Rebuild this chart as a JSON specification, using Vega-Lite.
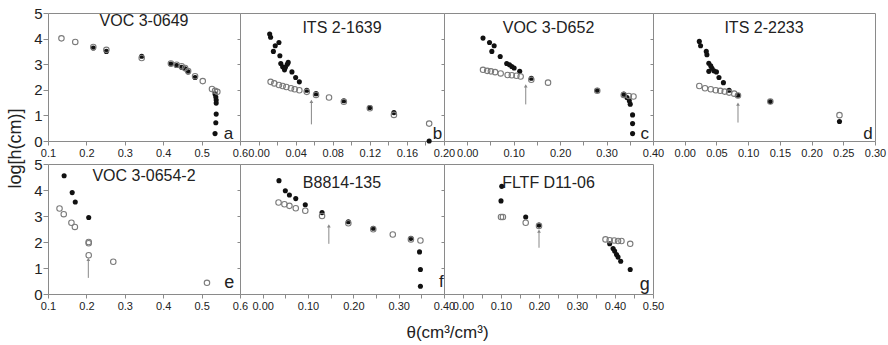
{
  "$schema": "https://vega.github.io/schema/vega-lite/v6.json",
  "background": "white",
  "padding": 5,
  "bounds": "flush",
  "columns": 4,
  "spacing": {"row": 23, "column": 0},
  "datasets": {
    "points": [
      {"panel": "a", "kind": "open", "theta": 0.135, "logh": 4.01},
      {"panel": "a", "kind": "open", "theta": 0.171, "logh": 3.87},
      {"panel": "a", "kind": "open", "theta": 0.218, "logh": 3.67},
      {"panel": "a", "kind": "open", "theta": 0.252, "logh": 3.56},
      {"panel": "a", "kind": "open", "theta": 0.344, "logh": 3.24},
      {"panel": "a", "kind": "open", "theta": 0.42, "logh": 3.03},
      {"panel": "a", "kind": "open", "theta": 0.435, "logh": 2.98},
      {"panel": "a", "kind": "open", "theta": 0.448, "logh": 2.92},
      {"panel": "a", "kind": "open", "theta": 0.457, "logh": 2.85},
      {"panel": "a", "kind": "open", "theta": 0.465, "logh": 2.73},
      {"panel": "a", "kind": "open", "theta": 0.483, "logh": 2.53},
      {"panel": "a", "kind": "open", "theta": 0.503, "logh": 2.34},
      {"panel": "a", "kind": "open", "theta": 0.527, "logh": 2.03},
      {"panel": "a", "kind": "open", "theta": 0.535, "logh": 1.96},
      {"panel": "a", "kind": "open", "theta": 0.541, "logh": 1.92},
      {"panel": "a", "kind": "filled", "theta": 0.218, "logh": 3.63},
      {"panel": "a", "kind": "filled", "theta": 0.252, "logh": 3.5},
      {"panel": "a", "kind": "filled", "theta": 0.344, "logh": 3.31},
      {"panel": "a", "kind": "filled", "theta": 0.42, "logh": 3.01},
      {"panel": "a", "kind": "filled", "theta": 0.435, "logh": 2.95},
      {"panel": "a", "kind": "filled", "theta": 0.448, "logh": 2.88},
      {"panel": "a", "kind": "filled", "theta": 0.457, "logh": 2.82},
      {"panel": "a", "kind": "filled", "theta": 0.465, "logh": 2.7},
      {"panel": "a", "kind": "filled", "theta": 0.483, "logh": 2.48},
      {"panel": "a", "kind": "filled", "theta": 0.535, "logh": 1.84},
      {"panel": "a", "kind": "filled", "theta": 0.537, "logh": 1.72},
      {"panel": "a", "kind": "filled", "theta": 0.538, "logh": 1.6},
      {"panel": "a", "kind": "filled", "theta": 0.538, "logh": 1.48},
      {"panel": "a", "kind": "filled", "theta": 0.538, "logh": 1.05},
      {"panel": "a", "kind": "filled", "theta": 0.537, "logh": 0.71},
      {"panel": "a", "kind": "filled", "theta": 0.535, "logh": 0.29},

      {"panel": "b", "kind": "filled", "theta": 0.012, "logh": 4.18},
      {"panel": "b", "kind": "filled", "theta": 0.013, "logh": 4.05},
      {"panel": "b", "kind": "filled", "theta": 0.022, "logh": 3.85},
      {"panel": "b", "kind": "filled", "theta": 0.018, "logh": 3.72},
      {"panel": "b", "kind": "filled", "theta": 0.016, "logh": 3.5},
      {"panel": "b", "kind": "filled", "theta": 0.023, "logh": 3.33},
      {"panel": "b", "kind": "filled", "theta": 0.024, "logh": 3.03},
      {"panel": "b", "kind": "filled", "theta": 0.026, "logh": 2.9},
      {"panel": "b", "kind": "filled", "theta": 0.028, "logh": 2.78},
      {"panel": "b", "kind": "filled", "theta": 0.031, "logh": 3.0},
      {"panel": "b", "kind": "filled", "theta": 0.032, "logh": 3.07},
      {"panel": "b", "kind": "filled", "theta": 0.029, "logh": 2.88},
      {"panel": "b", "kind": "filled", "theta": 0.036, "logh": 2.7},
      {"panel": "b", "kind": "filled", "theta": 0.04, "logh": 2.48},
      {"panel": "b", "kind": "filled", "theta": 0.044, "logh": 2.31},
      {"panel": "b", "kind": "filled", "theta": 0.052, "logh": 1.98},
      {"panel": "b", "kind": "filled", "theta": 0.062, "logh": 1.85},
      {"panel": "b", "kind": "filled", "theta": 0.092, "logh": 1.57},
      {"panel": "b", "kind": "filled", "theta": 0.12, "logh": 1.31},
      {"panel": "b", "kind": "filled", "theta": 0.146, "logh": 1.11},
      {"panel": "b", "kind": "filled", "theta": 0.184, "logh": 0.0},
      {"panel": "b", "kind": "open", "theta": 0.013, "logh": 2.31},
      {"panel": "b", "kind": "open", "theta": 0.017, "logh": 2.25},
      {"panel": "b", "kind": "open", "theta": 0.022, "logh": 2.19},
      {"panel": "b", "kind": "open", "theta": 0.026, "logh": 2.15},
      {"panel": "b", "kind": "open", "theta": 0.03, "logh": 2.11},
      {"panel": "b", "kind": "open", "theta": 0.035, "logh": 2.06},
      {"panel": "b", "kind": "open", "theta": 0.039, "logh": 2.02},
      {"panel": "b", "kind": "open", "theta": 0.044, "logh": 1.98},
      {"panel": "b", "kind": "open", "theta": 0.052, "logh": 1.92},
      {"panel": "b", "kind": "open", "theta": 0.062, "logh": 1.8},
      {"panel": "b", "kind": "open", "theta": 0.076, "logh": 1.7},
      {"panel": "b", "kind": "open", "theta": 0.092, "logh": 1.53},
      {"panel": "b", "kind": "open", "theta": 0.12, "logh": 1.28},
      {"panel": "b", "kind": "open", "theta": 0.146, "logh": 1.02},
      {"panel": "b", "kind": "open", "theta": 0.184, "logh": 0.68},

      {"panel": "c", "kind": "filled", "theta": 0.034, "logh": 4.02},
      {"panel": "c", "kind": "filled", "theta": 0.048, "logh": 3.85},
      {"panel": "c", "kind": "filled", "theta": 0.058, "logh": 3.72},
      {"panel": "c", "kind": "filled", "theta": 0.053, "logh": 3.5},
      {"panel": "c", "kind": "filled", "theta": 0.071, "logh": 3.3},
      {"panel": "c", "kind": "filled", "theta": 0.085, "logh": 3.03},
      {"panel": "c", "kind": "filled", "theta": 0.091, "logh": 2.98},
      {"panel": "c", "kind": "filled", "theta": 0.096, "logh": 2.91},
      {"panel": "c", "kind": "filled", "theta": 0.101, "logh": 2.85},
      {"panel": "c", "kind": "filled", "theta": 0.113, "logh": 2.72},
      {"panel": "c", "kind": "filled", "theta": 0.138, "logh": 2.45},
      {"panel": "c", "kind": "filled", "theta": 0.28, "logh": 1.98},
      {"panel": "c", "kind": "filled", "theta": 0.337, "logh": 1.83},
      {"panel": "c", "kind": "filled", "theta": 0.344, "logh": 1.7},
      {"panel": "c", "kind": "filled", "theta": 0.349, "logh": 1.57},
      {"panel": "c", "kind": "filled", "theta": 0.351, "logh": 1.44},
      {"panel": "c", "kind": "filled", "theta": 0.356, "logh": 1.02},
      {"panel": "c", "kind": "filled", "theta": 0.356, "logh": 0.68},
      {"panel": "c", "kind": "filled", "theta": 0.356, "logh": 0.29},
      {"panel": "c", "kind": "open", "theta": 0.034, "logh": 2.78},
      {"panel": "c", "kind": "open", "theta": 0.043, "logh": 2.74},
      {"panel": "c", "kind": "open", "theta": 0.051, "logh": 2.72},
      {"panel": "c", "kind": "open", "theta": 0.06, "logh": 2.69},
      {"panel": "c", "kind": "open", "theta": 0.072, "logh": 2.64},
      {"panel": "c", "kind": "open", "theta": 0.087, "logh": 2.58},
      {"panel": "c", "kind": "open", "theta": 0.096, "logh": 2.57},
      {"panel": "c", "kind": "open", "theta": 0.106, "logh": 2.55},
      {"panel": "c", "kind": "open", "theta": 0.115, "logh": 2.52},
      {"panel": "c", "kind": "open", "theta": 0.138, "logh": 2.39},
      {"panel": "c", "kind": "open", "theta": 0.174, "logh": 2.28},
      {"panel": "c", "kind": "open", "theta": 0.28, "logh": 1.96},
      {"panel": "c", "kind": "open", "theta": 0.337, "logh": 1.8},
      {"panel": "c", "kind": "open", "theta": 0.348, "logh": 1.76},
      {"panel": "c", "kind": "open", "theta": 0.358, "logh": 1.74},

      {"panel": "d", "kind": "filled", "theta": 0.023, "logh": 3.89},
      {"panel": "d", "kind": "filled", "theta": 0.025, "logh": 3.72},
      {"panel": "d", "kind": "filled", "theta": 0.034, "logh": 3.5},
      {"panel": "d", "kind": "filled", "theta": 0.035, "logh": 3.37},
      {"panel": "d", "kind": "filled", "theta": 0.038, "logh": 3.04},
      {"panel": "d", "kind": "filled", "theta": 0.041, "logh": 2.94},
      {"panel": "d", "kind": "filled", "theta": 0.038, "logh": 2.72},
      {"panel": "d", "kind": "filled", "theta": 0.043, "logh": 2.84},
      {"panel": "d", "kind": "filled", "theta": 0.046, "logh": 2.74},
      {"panel": "d", "kind": "filled", "theta": 0.05, "logh": 2.7},
      {"panel": "d", "kind": "filled", "theta": 0.054, "logh": 2.48},
      {"panel": "d", "kind": "filled", "theta": 0.061, "logh": 2.28},
      {"panel": "d", "kind": "filled", "theta": 0.07, "logh": 1.98},
      {"panel": "d", "kind": "filled", "theta": 0.084, "logh": 1.79},
      {"panel": "d", "kind": "filled", "theta": 0.135, "logh": 1.54},
      {"panel": "d", "kind": "filled", "theta": 0.244, "logh": 0.76},
      {"panel": "d", "kind": "open", "theta": 0.023, "logh": 2.15},
      {"panel": "d", "kind": "open", "theta": 0.032, "logh": 2.06},
      {"panel": "d", "kind": "open", "theta": 0.041, "logh": 2.02},
      {"panel": "d", "kind": "open", "theta": 0.049, "logh": 1.98},
      {"panel": "d", "kind": "open", "theta": 0.056, "logh": 1.96},
      {"panel": "d", "kind": "open", "theta": 0.063, "logh": 1.93},
      {"panel": "d", "kind": "open", "theta": 0.07, "logh": 1.89},
      {"panel": "d", "kind": "open", "theta": 0.078, "logh": 1.85},
      {"panel": "d", "kind": "open", "theta": 0.084, "logh": 1.78},
      {"panel": "d", "kind": "open", "theta": 0.135, "logh": 1.54},
      {"panel": "d", "kind": "open", "theta": 0.244, "logh": 1.01},

      {"panel": "e", "kind": "filled", "theta": 0.142, "logh": 4.55},
      {"panel": "e", "kind": "filled", "theta": 0.163, "logh": 3.9},
      {"panel": "e", "kind": "filled", "theta": 0.171, "logh": 3.54},
      {"panel": "e", "kind": "filled", "theta": 0.206, "logh": 2.94},
      {"panel": "e", "kind": "open", "theta": 0.13, "logh": 3.29},
      {"panel": "e", "kind": "open", "theta": 0.141, "logh": 3.07},
      {"panel": "e", "kind": "open", "theta": 0.161, "logh": 2.74},
      {"panel": "e", "kind": "open", "theta": 0.17, "logh": 2.58},
      {"panel": "e", "kind": "open", "theta": 0.206, "logh": 2.0},
      {"panel": "e", "kind": "open", "theta": 0.206, "logh": 1.95},
      {"panel": "e", "kind": "open", "theta": 0.206, "logh": 1.49},
      {"panel": "e", "kind": "open", "theta": 0.27, "logh": 1.24},
      {"panel": "e", "kind": "open", "theta": 0.514, "logh": 0.43},

      {"panel": "f", "kind": "filled", "theta": 0.036, "logh": 4.36},
      {"panel": "f", "kind": "filled", "theta": 0.05, "logh": 3.97},
      {"panel": "f", "kind": "filled", "theta": 0.059, "logh": 3.81},
      {"panel": "f", "kind": "filled", "theta": 0.073, "logh": 3.67},
      {"panel": "f", "kind": "filled", "theta": 0.094, "logh": 3.43},
      {"panel": "f", "kind": "filled", "theta": 0.131, "logh": 3.13},
      {"panel": "f", "kind": "filled", "theta": 0.189, "logh": 2.78},
      {"panel": "f", "kind": "filled", "theta": 0.244, "logh": 2.53},
      {"panel": "f", "kind": "filled", "theta": 0.327, "logh": 2.14},
      {"panel": "f", "kind": "filled", "theta": 0.346, "logh": 1.62},
      {"panel": "f", "kind": "filled", "theta": 0.348, "logh": 0.94},
      {"panel": "f", "kind": "filled", "theta": 0.348, "logh": 0.3},
      {"panel": "f", "kind": "open", "theta": 0.035, "logh": 3.52},
      {"panel": "f", "kind": "open", "theta": 0.048, "logh": 3.45},
      {"panel": "f", "kind": "open", "theta": 0.059, "logh": 3.39},
      {"panel": "f", "kind": "open", "theta": 0.073, "logh": 3.3},
      {"panel": "f", "kind": "open", "theta": 0.094, "logh": 3.2},
      {"panel": "f", "kind": "open", "theta": 0.131, "logh": 3.0},
      {"panel": "f", "kind": "open", "theta": 0.189, "logh": 2.72},
      {"panel": "f", "kind": "open", "theta": 0.244, "logh": 2.49},
      {"panel": "f", "kind": "open", "theta": 0.287, "logh": 2.29},
      {"panel": "f", "kind": "open", "theta": 0.327, "logh": 2.1},
      {"panel": "f", "kind": "open", "theta": 0.348, "logh": 2.06},

      {"panel": "g", "kind": "filled", "theta": 0.102, "logh": 4.14},
      {"panel": "g", "kind": "filled", "theta": 0.1, "logh": 3.58},
      {"panel": "g", "kind": "filled", "theta": 0.165, "logh": 2.96},
      {"panel": "g", "kind": "filled", "theta": 0.2, "logh": 2.65},
      {"panel": "g", "kind": "filled", "theta": 0.386, "logh": 1.93},
      {"panel": "g", "kind": "filled", "theta": 0.395, "logh": 1.75},
      {"panel": "g", "kind": "filled", "theta": 0.399, "logh": 1.65},
      {"panel": "g", "kind": "filled", "theta": 0.404, "logh": 1.52},
      {"panel": "g", "kind": "filled", "theta": 0.408, "logh": 1.42},
      {"panel": "g", "kind": "filled", "theta": 0.415, "logh": 1.26},
      {"panel": "g", "kind": "filled", "theta": 0.44, "logh": 0.94},
      {"panel": "g", "kind": "open", "theta": 0.1, "logh": 2.96},
      {"panel": "g", "kind": "open", "theta": 0.105, "logh": 2.96},
      {"panel": "g", "kind": "open", "theta": 0.165, "logh": 2.74},
      {"panel": "g", "kind": "open", "theta": 0.2, "logh": 2.62},
      {"panel": "g", "kind": "open", "theta": 0.375, "logh": 2.1},
      {"panel": "g", "kind": "open", "theta": 0.386, "logh": 2.07},
      {"panel": "g", "kind": "open", "theta": 0.398, "logh": 2.06},
      {"panel": "g", "kind": "open", "theta": 0.408, "logh": 2.04},
      {"panel": "g", "kind": "open", "theta": 0.417, "logh": 2.04},
      {"panel": "g", "kind": "open", "theta": 0.44, "logh": 1.93}
    ],
    "arrows": [
      {"panel": "b", "theta": 0.057, "logh": 0.65, "tip": 1.55},
      {"panel": "c", "theta": 0.126, "logh": 1.43, "tip": 2.15},
      {"panel": "d", "theta": 0.084, "logh": 0.72, "tip": 1.44},
      {"panel": "e", "theta": 0.205, "logh": 0.62, "tip": 1.33},
      {"panel": "f", "theta": 0.146, "logh": 1.93, "tip": 2.62},
      {"panel": "g", "theta": 0.2, "logh": 1.78, "tip": 2.42}
    ],
    "letters": [
      {"panel": "a", "theta": 0.57, "logh": 0.29, "label": "a"},
      {"panel": "b", "theta": 0.193, "logh": 0.29, "label": "b"},
      {"panel": "c", "theta": 0.382, "logh": 0.27, "label": "c"},
      {"panel": "d", "theta": 0.289, "logh": 0.29, "label": "d"},
      {"panel": "e", "theta": 0.572, "logh": 0.43, "label": "e"},
      {"panel": "f", "theta": 0.394, "logh": 0.46, "label": "f"},
      {"panel": "g", "theta": 0.478, "logh": 0.36, "label": "g"}
    ]
  },
  "concat": [
    {
      "width": 192, "height": 128,
      "title": {"text": "VOC 3-0649", "offset": -23},
      "encoding": {
        "x": {"field": "theta", "type": "quantitative", "scale": {"domain": [0.1, 0.6], "nice": false, "zero": false},
              "axis": {"title": null, "values": [0.1, 0.2, 0.3, 0.4, 0.5, 0.6], "format": ".1f"}},
        "y": {"field": "logh", "type": "quantitative", "scale": {"domain": [0, 5], "nice": false},
              "axis": {"title": "log[h(cm)]", "values": [0, 1, 2, 3, 4, 5], "labelFontSize": 15, "tickSize": 5, "labelPadding": 1,
                       "titleFontSize": 18, "titleX": -33, "titleY": 135, "titleAngle": -90, "titleAlign": "center", "titleBaseline": "middle"}}
      },
      "layer": [
        {"data": {"name": "points"}, "transform": [{"filter": "datum.panel === 'a' && datum.kind === 'filled'"}],
         "mark": {"type": "circle", "color": "#111", "size": 26, "opacity": 1}},
        {"data": {"name": "points"}, "transform": [{"filter": "datum.panel === 'a' && datum.kind === 'open'"}],
         "mark": {"type": "point", "shape": "circle", "filled": false, "color": "#7a7a7a", "size": 30, "strokeWidth": 1.1, "opacity": 1}},
        {"data": {"name": "letters"}, "transform": [{"filter": "datum.panel === 'a'"}],
         "mark": {"type": "text", "fontSize": 17, "color": "#222"}, "encoding": {"text": {"field": "label"}}}
      ]
    },
    {
      "width": 204, "height": 128,
      "title": {"text": "ITS 2-1639", "offset": -23},
      "encoding": {
        "x": {"field": "theta", "type": "quantitative", "scale": {"domain": [-0.02, 0.2], "nice": false, "zero": false},
              "axis": {"title": null, "values": [0, 0.02, 0.04, 0.06, 0.08, 0.1, 0.12, 0.14, 0.16, 0.18, 0.2],
                       "labelExpr": "round(datum.value * 100) % 4 === 0 ? format(datum.value, '.2f') : ''"}},
        "y": {"field": "logh", "type": "quantitative", "scale": {"domain": [0, 5], "nice": false},
              "axis": {"title": null, "labels": false, "values": [1, 2, 3, 4], "tickSize": 3}}
      },
      "layer": [
        {"data": {"name": "points"}, "transform": [{"filter": "datum.panel === 'b' && datum.kind === 'filled'"}],
         "mark": {"type": "circle", "color": "#111", "size": 26, "opacity": 1}},
        {"data": {"name": "points"}, "transform": [{"filter": "datum.panel === 'b' && datum.kind === 'open'"}],
         "mark": {"type": "point", "shape": "circle", "filled": false, "color": "#7a7a7a", "size": 30, "strokeWidth": 1.1, "opacity": 1}},
        {"data": {"name": "arrows"}, "transform": [{"filter": "datum.panel === 'b'"}],
         "mark": {"type": "rule", "color": "#888", "strokeWidth": 1}, "encoding": {"y2": {"field": "tip"}}},
        {"data": {"name": "arrows"}, "transform": [{"filter": "datum.panel === 'b'"}],
         "mark": {"type": "point", "shape": "triangle-up", "filled": true, "color": "#888", "size": 14, "opacity": 1},
         "encoding": {"y": {"field": "tip", "type": "quantitative", "axis": {"title": null, "labels": false, "values": [1, 2, 3, 4], "tickSize": 3}}}},
        {"data": {"name": "letters"}, "transform": [{"filter": "datum.panel === 'b'"}],
         "mark": {"type": "text", "fontSize": 17, "color": "#222"}, "encoding": {"text": {"field": "label"}}}
      ]
    },
    {
      "width": 209, "height": 128,
      "title": {"text": "VOC 3-D652", "offset": -23},
      "encoding": {
        "x": {"field": "theta", "type": "quantitative", "scale": {"domain": [-0.05, 0.4], "nice": false, "zero": false},
              "axis": {"title": null, "values": [0, 0.05, 0.1, 0.15, 0.2, 0.25, 0.3, 0.35, 0.4],
                       "labelExpr": "round(datum.value * 100) % 10 === 0 ? format(datum.value, '.2f') : ''"}},
        "y": {"field": "logh", "type": "quantitative", "scale": {"domain": [0, 5], "nice": false},
              "axis": {"title": null, "labels": false, "values": [1, 2, 3, 4], "tickSize": 3}}
      },
      "layer": [
        {"data": {"name": "points"}, "transform": [{"filter": "datum.panel === 'c' && datum.kind === 'filled'"}],
         "mark": {"type": "circle", "color": "#111", "size": 26, "opacity": 1}},
        {"data": {"name": "points"}, "transform": [{"filter": "datum.panel === 'c' && datum.kind === 'open'"}],
         "mark": {"type": "point", "shape": "circle", "filled": false, "color": "#7a7a7a", "size": 30, "strokeWidth": 1.1, "opacity": 1}},
        {"data": {"name": "arrows"}, "transform": [{"filter": "datum.panel === 'c'"}],
         "mark": {"type": "rule", "color": "#888", "strokeWidth": 1}, "encoding": {"y2": {"field": "tip"}}},
        {"data": {"name": "arrows"}, "transform": [{"filter": "datum.panel === 'c'"}],
         "mark": {"type": "point", "shape": "triangle-up", "filled": true, "color": "#888", "size": 14, "opacity": 1},
         "encoding": {"y": {"field": "tip", "type": "quantitative", "axis": {"title": null, "labels": false, "values": [1, 2, 3, 4], "tickSize": 3}}}},
        {"data": {"name": "letters"}, "transform": [{"filter": "datum.panel === 'c'"}],
         "mark": {"type": "text", "fontSize": 17, "color": "#222"}, "encoding": {"text": {"field": "label"}}}
      ]
    },
    {
      "width": 222, "height": 128,
      "title": {"text": "ITS 2-2233", "offset": -23},
      "encoding": {
        "x": {"field": "theta", "type": "quantitative", "scale": {"domain": [-0.05, 0.3], "nice": false, "zero": false},
              "axis": {"title": null, "values": [0, 0.05, 0.1, 0.15, 0.2, 0.25, 0.3], "format": ".2f"}},
        "y": {"field": "logh", "type": "quantitative", "scale": {"domain": [0, 5], "nice": false},
              "axis": {"title": null, "labels": false, "values": [1, 2, 3, 4], "tickSize": 3}}
      },
      "layer": [
        {"data": {"name": "points"}, "transform": [{"filter": "datum.panel === 'd' && datum.kind === 'filled'"}],
         "mark": {"type": "circle", "color": "#111", "size": 26, "opacity": 1}},
        {"data": {"name": "points"}, "transform": [{"filter": "datum.panel === 'd' && datum.kind === 'open'"}],
         "mark": {"type": "point", "shape": "circle", "filled": false, "color": "#7a7a7a", "size": 30, "strokeWidth": 1.1, "opacity": 1}},
        {"data": {"name": "arrows"}, "transform": [{"filter": "datum.panel === 'd'"}],
         "mark": {"type": "rule", "color": "#888", "strokeWidth": 1}, "encoding": {"y2": {"field": "tip"}}},
        {"data": {"name": "arrows"}, "transform": [{"filter": "datum.panel === 'd'"}],
         "mark": {"type": "point", "shape": "triangle-up", "filled": true, "color": "#888", "size": 14, "opacity": 1},
         "encoding": {"y": {"field": "tip", "type": "quantitative", "axis": {"title": null, "labels": false, "values": [1, 2, 3, 4], "tickSize": 3}}}},
        {"data": {"name": "letters"}, "transform": [{"filter": "datum.panel === 'd'"}],
         "mark": {"type": "text", "fontSize": 17, "color": "#222"}, "encoding": {"text": {"field": "label"}}}
      ]
    },
    {
      "width": 192, "height": 130,
      "title": {"text": "VOC 3-0654-2", "offset": -27},
      "encoding": {
        "x": {"field": "theta", "type": "quantitative", "scale": {"domain": [0.1, 0.6], "nice": false, "zero": false},
              "axis": {"title": null, "values": [0.1, 0.2, 0.3, 0.4, 0.5, 0.6], "format": ".1f"}},
        "y": {"field": "logh", "type": "quantitative", "scale": {"domain": [0, 5], "nice": false},
              "axis": {"title": null, "values": [0, 1, 2, 3, 4, 5], "labelFontSize": 15, "tickSize": 5, "labelPadding": 1}}
      },
      "layer": [
        {"data": {"name": "points"}, "transform": [{"filter": "datum.panel === 'e' && datum.kind === 'filled'"}],
         "mark": {"type": "circle", "color": "#111", "size": 26, "opacity": 1}},
        {"data": {"name": "points"}, "transform": [{"filter": "datum.panel === 'e' && datum.kind === 'open'"}],
         "mark": {"type": "point", "shape": "circle", "filled": false, "color": "#7a7a7a", "size": 30, "strokeWidth": 1.1, "opacity": 1}},
        {"data": {"name": "arrows"}, "transform": [{"filter": "datum.panel === 'e'"}],
         "mark": {"type": "rule", "color": "#888", "strokeWidth": 1}, "encoding": {"y2": {"field": "tip"}}},
        {"data": {"name": "arrows"}, "transform": [{"filter": "datum.panel === 'e'"}],
         "mark": {"type": "point", "shape": "triangle-up", "filled": true, "color": "#888", "size": 14, "opacity": 1},
         "encoding": {"y": {"field": "tip", "type": "quantitative", "axis": {"title": null, "values": [0, 1, 2, 3, 4, 5], "labelFontSize": 15, "tickSize": 5, "labelPadding": 1}}}},
        {"data": {"name": "letters"}, "transform": [{"filter": "datum.panel === 'e'"}],
         "mark": {"type": "text", "fontSize": 18, "color": "#222"}, "encoding": {"text": {"field": "label"}}}
      ]
    },
    {
      "width": 204, "height": 130,
      "title": {"text": "B8814-135", "offset": -27},
      "encoding": {
        "x": {"field": "theta", "type": "quantitative", "scale": {"domain": [-0.05, 0.4], "nice": false, "zero": false},
              "axis": {"title": "θ(cm³/cm³)", "titleFontSize": 17, "titleX": 207, "titleY": 38, "titleAlign": "center", "titleBaseline": "middle",
                       "values": [0, 0.05, 0.1, 0.15, 0.2, 0.25, 0.3, 0.35, 0.4],
                       "labelExpr": "round(datum.value * 100) % 10 === 0 ? format(datum.value, '.2f') : ''"}},
        "y": {"field": "logh", "type": "quantitative", "scale": {"domain": [0, 5], "nice": false},
              "axis": {"title": null, "labels": false, "values": [1, 2, 3, 4], "tickSize": 3}}
      },
      "layer": [
        {"data": {"name": "points"}, "transform": [{"filter": "datum.panel === 'f' && datum.kind === 'filled'"}],
         "mark": {"type": "circle", "color": "#111", "size": 26, "opacity": 1}},
        {"data": {"name": "points"}, "transform": [{"filter": "datum.panel === 'f' && datum.kind === 'open'"}],
         "mark": {"type": "point", "shape": "circle", "filled": false, "color": "#7a7a7a", "size": 30, "strokeWidth": 1.1, "opacity": 1}},
        {"data": {"name": "arrows"}, "transform": [{"filter": "datum.panel === 'f'"}],
         "mark": {"type": "rule", "color": "#888", "strokeWidth": 1}, "encoding": {"y2": {"field": "tip"}}},
        {"data": {"name": "arrows"}, "transform": [{"filter": "datum.panel === 'f'"}],
         "mark": {"type": "point", "shape": "triangle-up", "filled": true, "color": "#888", "size": 14, "opacity": 1},
         "encoding": {"y": {"field": "tip", "type": "quantitative", "axis": {"title": null, "labels": false, "values": [1, 2, 3, 4], "tickSize": 3}}}},
        {"data": {"name": "letters"}, "transform": [{"filter": "datum.panel === 'f'"}],
         "mark": {"type": "text", "fontSize": 17, "color": "#222"}, "encoding": {"text": {"field": "label"}}}
      ]
    },
    {
      "width": 209, "height": 130,
      "title": {"text": "FLTF D11-06", "offset": -27},
      "encoding": {
        "x": {"field": "theta", "type": "quantitative", "scale": {"domain": [-0.05, 0.5], "nice": false, "zero": false},
              "axis": {"title": null, "values": [0, 0.05, 0.1, 0.15, 0.2, 0.25, 0.3, 0.35, 0.4, 0.45, 0.5],
                       "labelExpr": "round(datum.value * 100) % 10 === 0 ? format(datum.value, '.2f') : ''"}},
        "y": {"field": "logh", "type": "quantitative", "scale": {"domain": [0, 5], "nice": false},
              "axis": {"title": null, "labels": false, "values": [1, 2, 3, 4], "tickSize": 3}}
      },
      "layer": [
        {"data": {"name": "points"}, "transform": [{"filter": "datum.panel === 'g' && datum.kind === 'filled'"}],
         "mark": {"type": "circle", "color": "#111", "size": 26, "opacity": 1}},
        {"data": {"name": "points"}, "transform": [{"filter": "datum.panel === 'g' && datum.kind === 'open'"}],
         "mark": {"type": "point", "shape": "circle", "filled": false, "color": "#7a7a7a", "size": 30, "strokeWidth": 1.1, "opacity": 1}},
        {"data": {"name": "arrows"}, "transform": [{"filter": "datum.panel === 'g'"}],
         "mark": {"type": "rule", "color": "#888", "strokeWidth": 1}, "encoding": {"y2": {"field": "tip"}}},
        {"data": {"name": "arrows"}, "transform": [{"filter": "datum.panel === 'g'"}],
         "mark": {"type": "point", "shape": "triangle-up", "filled": true, "color": "#888", "size": 14, "opacity": 1},
         "encoding": {"y": {"field": "tip", "type": "quantitative", "axis": {"title": null, "labels": false, "values": [1, 2, 3, 4], "tickSize": 3}}}},
        {"data": {"name": "letters"}, "transform": [{"filter": "datum.panel === 'g'"}],
         "mark": {"type": "text", "fontSize": 18, "color": "#222"}, "encoding": {"text": {"field": "label"}}}
      ]
    }
  ],
  "config": {
    "font": "Liberation Sans",
    "view": {"stroke": "#8a8a8a", "strokeWidth": 1},
    "axis": {"grid": false, "domain": false, "tickColor": "#8a8a8a", "labelColor": "#222", "labelFont": "Liberation Sans",
             "labelFontSize": 11, "labelPadding": 2, "titleFont": "Liberation Sans", "titleFontWeight": "normal", "titleColor": "#222",
             "labelFlush": false, "labelOverlap": false, "tickSize": 4},
    "title": {"font": "Liberation Sans", "fontSize": 16, "fontWeight": "normal", "color": "#222", "offset": -18,
              "frame": "group", "baseline": "alphabetic", "anchor": "middle"}
  }
}
